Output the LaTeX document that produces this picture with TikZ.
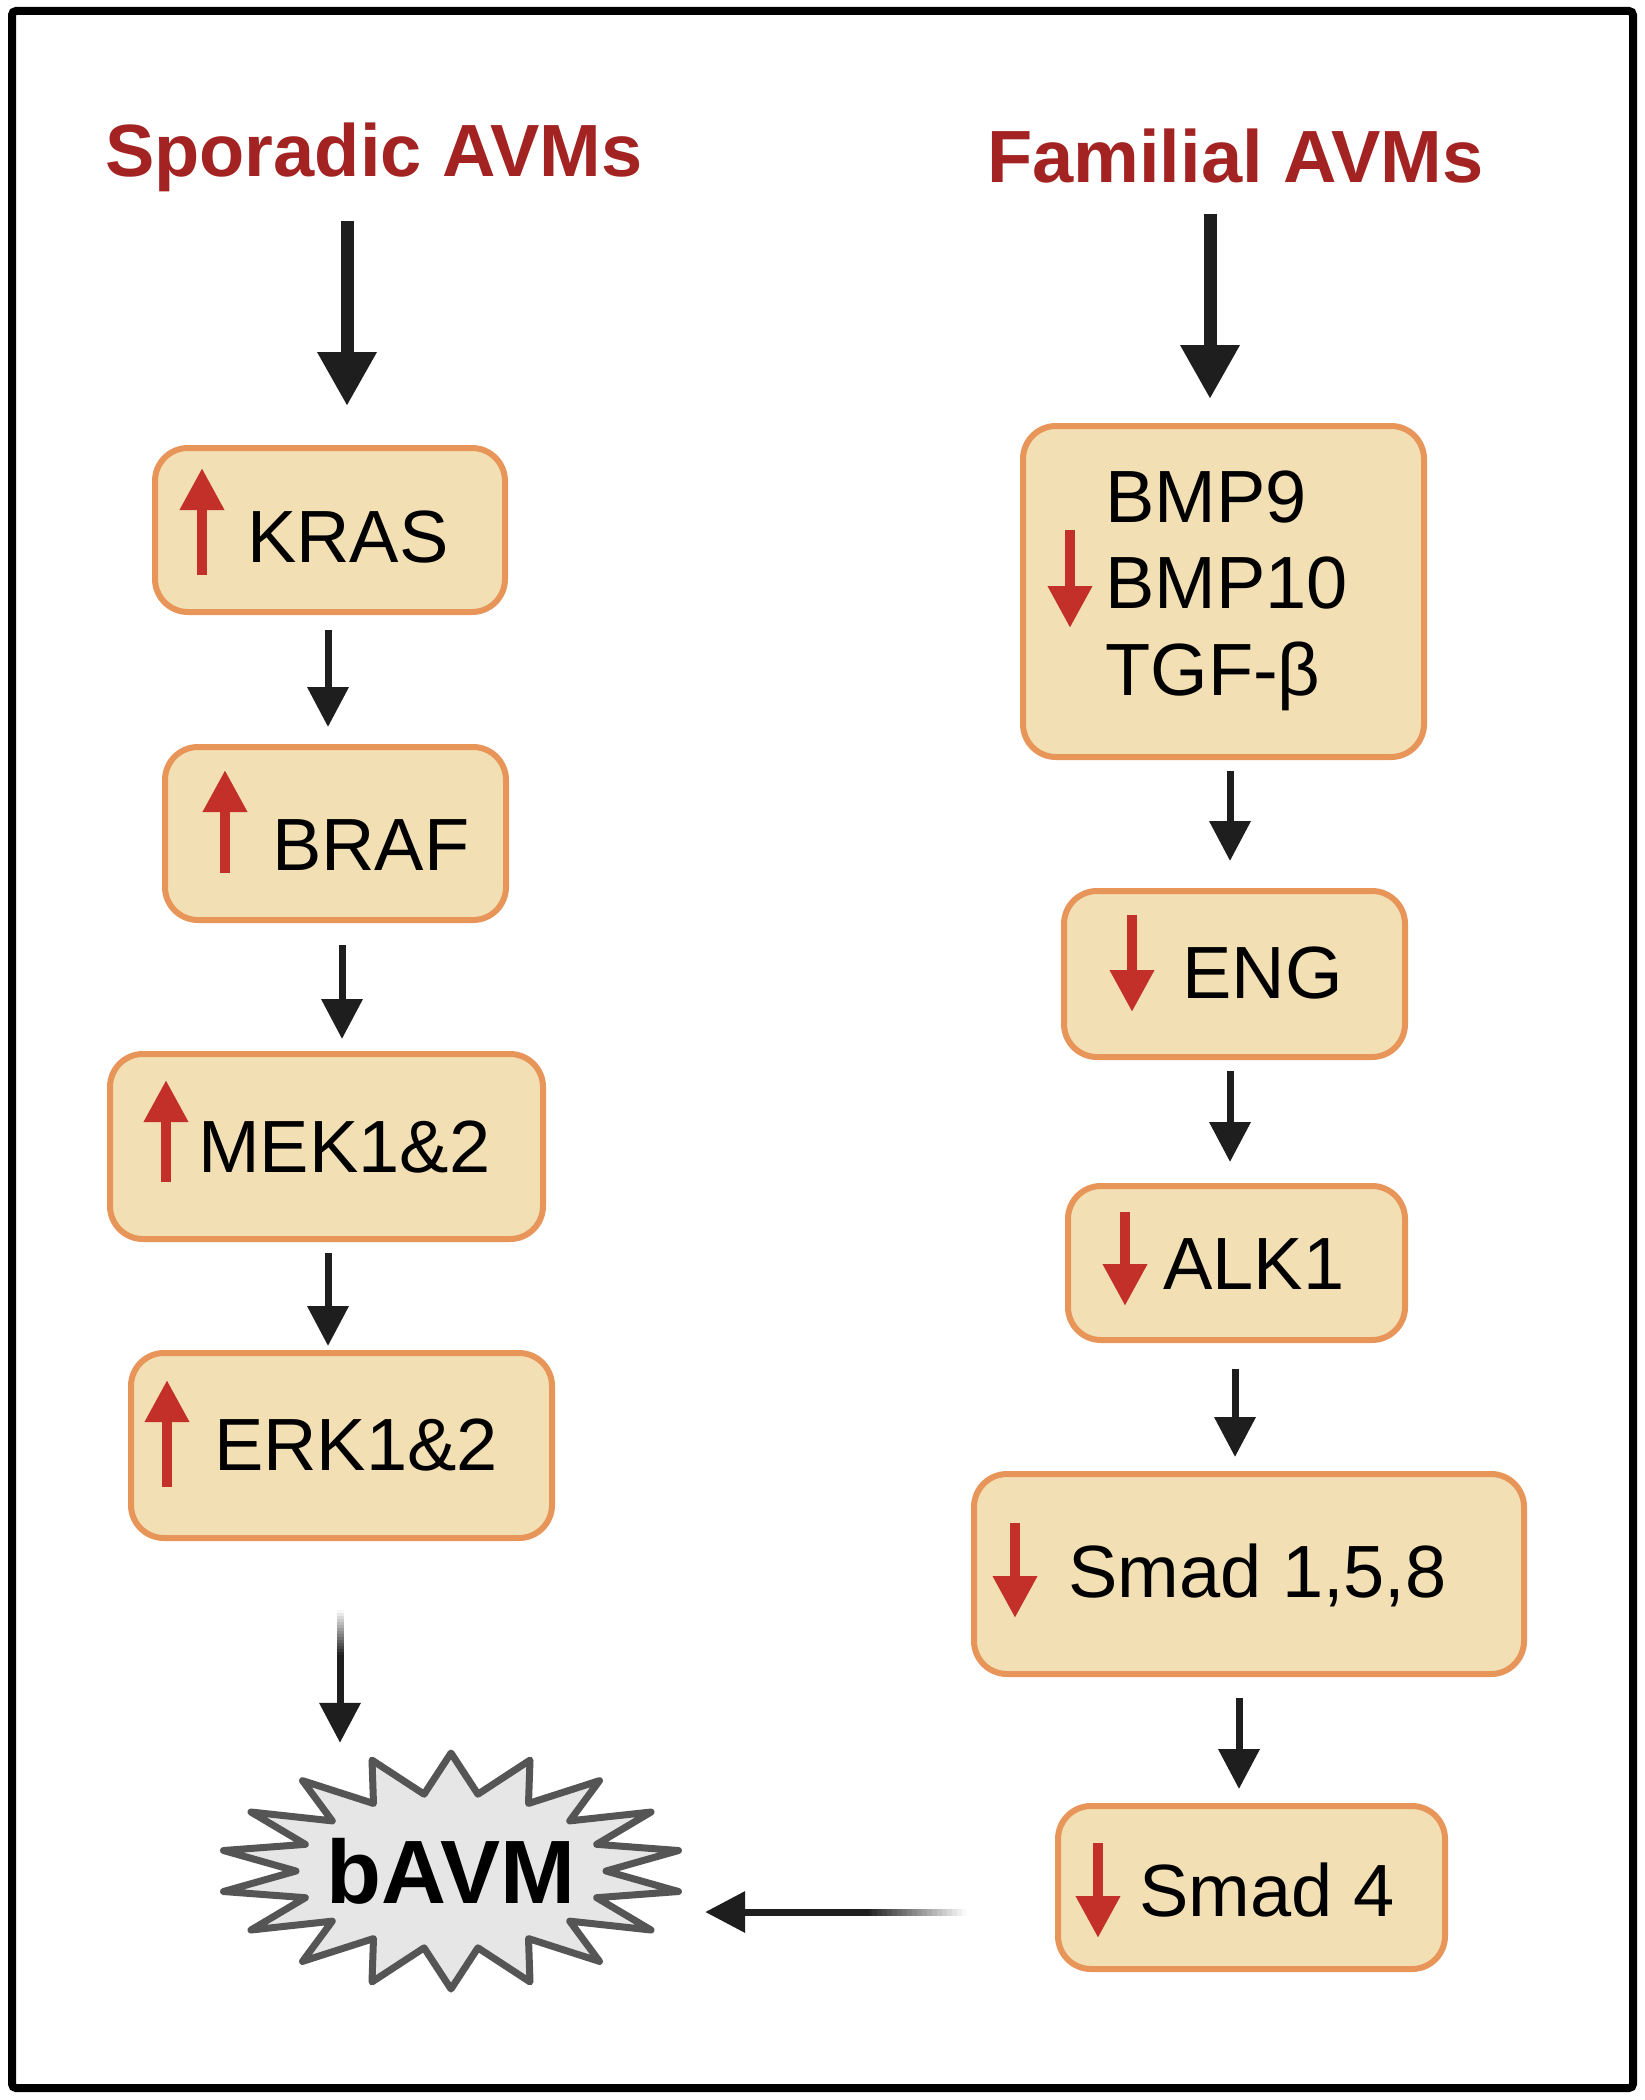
\documentclass[tikz,border=0pt]{standalone}
\usepackage{fontspec}
\setmainfont{Liberation Sans}
\usetikzlibrary{arrows.meta,calc}
\definecolor{titlered}{HTML}{A32222}
\definecolor{boxfill}{HTML}{F2E0B4}
\definecolor{boxdraw}{HTML}{E8955A}
\definecolor{redc}{HTML}{C3302A}
\definecolor{arrowblack}{HTML}{1E1E1E}
\definecolor{starfill}{HTML}{E6E6E6}
\definecolor{stardraw}{HTML}{555555}
\begin{document}
\begin{tikzpicture}[x=1pt,y=-1pt,
  box/.style={draw=boxdraw, fill=boxfill, line width=6pt, rounded corners=33pt, inner sep=0pt},
  lbl/.style={anchor=base west, inner sep=0pt, font=\fontsize{74}{80}\selectfont},
  ttl/.style={anchor=base west, inner sep=0pt, text=titlered, font=\fontsize{74}{80}\selectfont\bfseries},
  arr/.style={draw=arrowblack, line width=7pt, -{Triangle[length=40pt,width=40pt]}},
  bigarr/.style={draw=arrowblack, line width=13pt, -{Triangle[length=54pt,width=56pt]}},
  redarr/.style={draw=redc, line width=10pt, -{Triangle[length=42pt,width=42pt]}},
  starst/.style={draw=stardraw, fill=starfill, line width=7pt, line join=round},
  fadeseg/.style={line width=7pt, line cap=butt}
]
\useasboundingbox (0,0) rectangle (1645,2100);
\fill[white] (0,0) rectangle (1645,2100);
\draw[line width=8pt, rounded corners=4pt] (12,11) rectangle (1633,2088);

% titles
\node[ttl] (spor) at (105,177) {Sporadic AVMs};
\node[ttl] (fam) at (987,183) {Familial AVMs};

% left column boxes
\node[box, minimum width=350pt, minimum height=164pt] (kras) at (330,530) {};
\node[box, minimum width=341pt, minimum height=173pt] (braf) at (335.5,833.5) {};
\node[box, minimum width=433pt, minimum height=185pt] (mek) at (326.5,1146.5) {};
\node[box, minimum width=421pt, minimum height=185pt] (erk) at (341.5,1445.5) {};

\node[lbl] (krast) at (247,562) {KRAS};
\node[lbl] (braft) at (272,870) {BRAF};
\node[lbl] (mekt) at (198,1172) {MEK1\&2};
\node[lbl] (erkt) at (214,1470) {ERK1\&2};

\draw[redarr] (202,575) -- (202,468);
\draw[redarr] (225,873) -- (225,770);
\draw[redarr] (166,1182) -- (166,1080);
\draw[redarr] (167,1487) -- (167,1380);

% right column boxes
\node[box, minimum width=401pt, minimum height=331pt] (bmp) at (1223.5,591.5) {};
\node[box, minimum width=341pt, minimum height=166pt] (eng) at (1234.5,974) {};
\node[box, minimum width=337pt, minimum height=154pt] (alk) at (1236.5,1263) {};
\node[box, minimum width=550pt, minimum height=200pt] (s158) at (1249,1574) {};
\node[box, minimum width=387pt, minimum height=163pt] (s4) at (1251.5,1887.5) {};

\node[lbl] (bmp9) at (1105,522) {BMP9};
\node[lbl] (bmp10) at (1105,608) {BMP10};
\node[lbl] (tgf) at (1105,695) {TGF-β};
\node[lbl] (engt) at (1182,998) {ENG};
\node[lbl] (alkt) at (1163,1289) {ALK1};
\node[lbl] (s158t) at (1068,1597) {Smad 1,5,8};
\node[lbl] (s4t) at (1139,1916) {Smad 4};

\draw[redarr] (1070,530) -- (1070,628);
\draw[redarr] (1132,915) -- (1132,1012);
\draw[redarr] (1125,1212) -- (1125,1306);
\draw[redarr] (1015,1523) -- (1015,1618);
\draw[redarr] (1098,1843) -- (1098,1938);

% bAVM starburst
\draw[starst] plot[variable=\k, samples at={0,...,35}]
  ({451+(mod(\k,2)==0?231:155)*cos(10+\k*10)}, {1871+(mod(\k,2)==0?118:78)*sin(10+\k*10)}) -- cycle;
\node[inner sep=0pt, minimum width=462pt, minimum height=236pt,
  font=\fontsize{90}{90}\selectfont\bfseries] (bavm) at (451,1871) {bAVM};

% big arrows
\coordinate (s1) at (347,221);
\coordinate (s2) at (1210,214);
\draw[bigarr] (s1) -- ($(kras.north)+(17,-39)$);
\draw[bigarr] (s2) -- ($(bmp.north)+(-13.5,-24)$);

% small arrows left
\draw[arr] ($(kras.south)+(-2,15)$) -- ($(kras.south |- braf.north)+(-2,-17)$);
\draw[arr] ($(braf.south)+(6.5,22)$) -- ($(braf.south |- mek.north)+(6.5,-12)$);
\draw[arr] ($(mek.south)+(1.5,11)$) -- ($(mek.south |- erk.north)+(1.5,-4)$);

% small arrows right
\draw[arr] ($(bmp.south)+(6.5,11)$) -- ($(bmp.south |- eng.north)+(6.5,-27)$);
\draw[arr] ($(eng.south)+(-4.5,11)$) -- ($(eng.south |- alk.north)+(-4.5,-21)$);
\draw[arr] ($(alk.south)+(-1.5,26)$) -- ($(alk.south |- s158.north)+(-1.5,-14)$);
\draw[arr] ($(s158.south)+(-10,21)$) -- ($(s158.south |- s4.north)+(-10,-14)$);

% faded arrows into bAVM
\foreach \i in {0,...,14}{
  \pgfmathsetmacro\p{100*(\i+0.5)/15}
  \draw[fadeseg, draw=arrowblack!\p!white] (340,{1610+3*\i}) -- (340,{1614+3*\i});
}
\draw[arr] ($(erk.south)+(-1.5,114)$) -- ($(erk.south |- bavm.north)+(-1.5,-10)$);
\foreach \i in {0,...,19}{
  \pgfmathsetmacro\p{100*(\i+0.5)/20}
  \draw[fadeseg, draw=arrowblack!\p!white] ({967-5*\i},1912) -- ({962-5*\i},1912);
}
\draw[arr] ($(s4.west)+(-186,24.5)$) -- ($(s4.west -| bavm.east)+(23,24.5)$);
\end{tikzpicture}
\end{document}
